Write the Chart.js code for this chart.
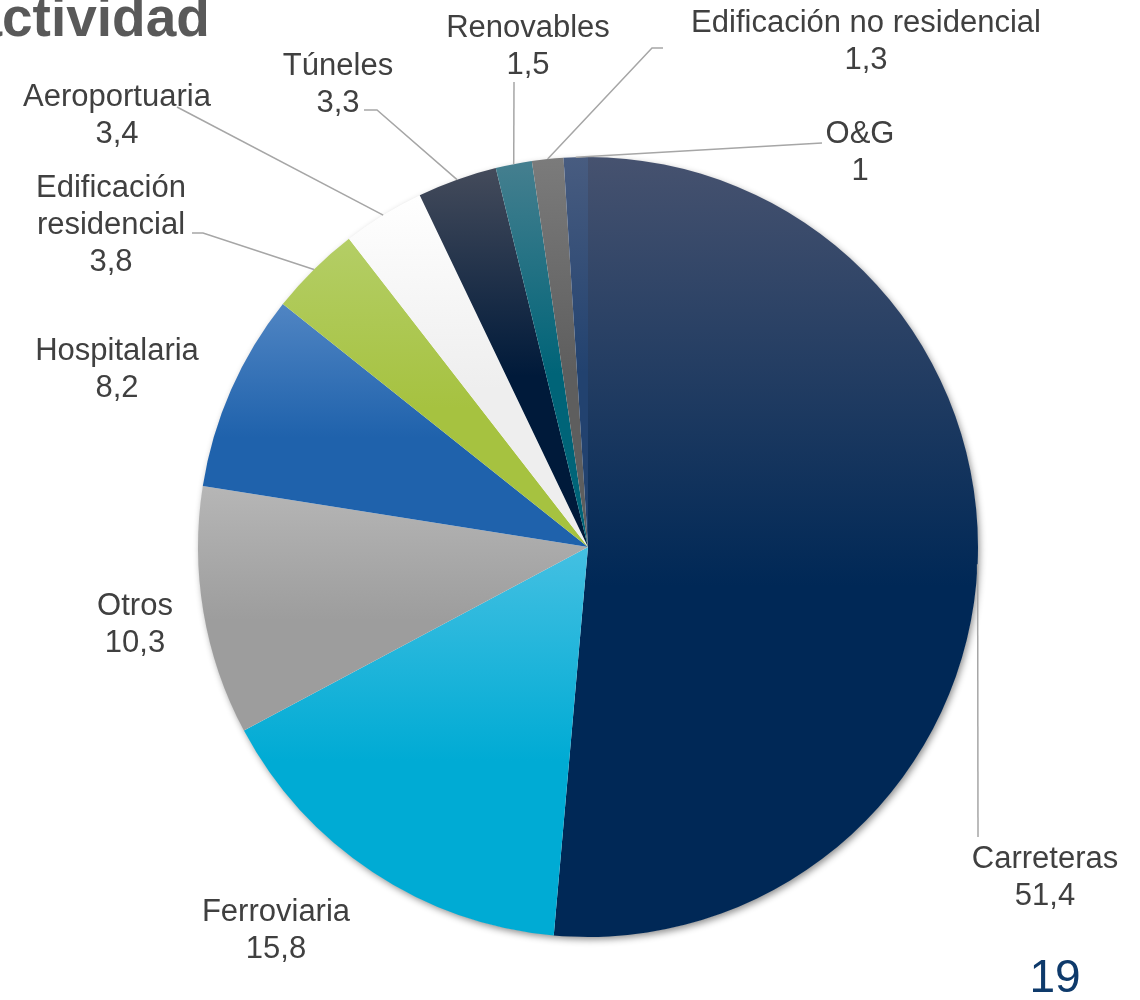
<!DOCTYPE html>
<html><head><meta charset="utf-8">
<script src="https://cdn.jsdelivr.net/npm/chart.js@4"></script>
<style>html,body{margin:0;padding:0;background:#fff}#wrap{width:1140px;height:1000px;position:relative}</style>
</head><body><div id="wrap"><canvas id="c" width="1140" height="1000"></canvas></div>
<script>
// ---- data ----
const categories = ['Carreteras','Ferroviaria','Otros','Hospitalaria','Edificación\nresidencial','Aeroportuaria','Túneles','Renovables','Edificación no residencial','O&G'];
const values = [51.4, 15.8, 10.3, 8.2, 3.8, 3.4, 3.3, 1.5, 1.3, 1];
// ---- styles ----
const topColors  = ['#46526f','#44c0e2','#b6b6b6','#5085c3','#b4ce66','#ffffff','#444b5b','#457f8f','#7b7b7b','#485c80'];
const baseColors = ['#002856','#00abd4','#9d9d9d','#1f62ac','#a6c240','#eeeeee','#001a3a','#006478','#5e5e5e','#22426f'];
// ---- label layout (centre x, first baseline) and leader elbows on label side ----
const labelX = [1045, 276, 135, 117, 111, 117, 338, 528, 866, 860];
const labelY = [868, 921, 615, 360, 197, 106, 75, 37, 32, 143];
const leaders = [
  [[978,837]], null, null, null,
  [[192,233],[203,233]],
  [[177,107]],
  [[364,110],[377,110]],
  [[514,82]],
  [[663,48],[652,48]],
  [[822,143]]
];
const LINE_H = 37;

function sliceGradient(ctx) {
  const chart = ctx.chart, a = chart.chartArea, i = ctx.dataIndex;
  if (!a) return baseColors[i];
  const cx = (a.left + a.right) / 2, cy = (a.top + a.bottom) / 2;
  const r = Math.min(a.right - a.left, a.bottom - a.top) / 2;
  const total = values.reduce((s, v) => s + v, 0);
  let s = 0; for (let k = 0; k < i; k++) s += values[k];
  const a0 = -Math.PI / 2 + s / total * 2 * Math.PI;
  const a1 = a0 + values[i] / total * 2 * Math.PI;
  const ys = [cy, cy + r * Math.sin(a0), cy + r * Math.sin(a1)];
  if (a0 <= -Math.PI / 2 + 1e-6 || a1 >= 1.5 * Math.PI - 1e-6) ys.push(cy - r);
  if (a0 <= Math.PI / 2 && a1 >= Math.PI / 2) ys.push(cy + r);
  const y0 = Math.min(...ys), y1 = Math.max(...ys);
  const g = chart.ctx.createLinearGradient(0, y0, 0, Math.max(y1, y0 + 1));
  g.addColorStop(0, topColors[i]);
  g.addColorStop(0.55, baseColors[i]);
  g.addColorStop(1, baseColors[i]);
  return g;
}

const fmt = v => String(v).replace('.', ',');

const shadowPlugin = {
  id: 'pieShadow',
  beforeDatasetsDraw(chart) {
    const arc = chart.getDatasetMeta(0).data[0];
    if (!arc) return;
    const p = arc.getProps(['x','y','outerRadius'], true);
    const c = chart.ctx;
    c.save();
    c.shadowColor = 'rgba(0,0,0,0.45)';
    c.shadowBlur = 7; c.shadowOffsetX = 2; c.shadowOffsetY = 3;
    c.fillStyle = '#ffffff';
    c.beginPath(); c.arc(p.x, p.y, p.outerRadius - 0.5, 0, Math.PI * 2); c.fill();
    c.restore();
  }
};

const labelPlugin = {
  id: 'pieLabels',
  afterDatasetsDraw(chart) {
    const c = chart.ctx;
    const arcs = chart.getDatasetMeta(0).data;
    c.save();
    // leader lines
    c.strokeStyle = '#a6a6a6'; c.lineWidth = 1.5;
    arcs.forEach((arc, i) => {
      const pts = leaders[i];
      if (!pts) return;
      const p = arc.getProps(['x','y','startAngle','endAngle','outerRadius'], true);
      const m = (p.startAngle + p.endAngle) / 2;
      const ax = p.x + Math.cos(m) * p.outerRadius, ay = p.y + Math.sin(m) * p.outerRadius;
      c.beginPath();
      c.moveTo(pts[0][0], pts[0][1]);
      for (let k = 1; k < pts.length; k++) c.lineTo(pts[k][0], pts[k][1]);
      c.lineTo(ax, ay);
      c.stroke();
    });
    // texts
    c.fillStyle = '#404040';
    c.font = '31px "Liberation Sans", Arial, sans-serif';
    c.textAlign = 'center'; c.textBaseline = 'alphabetic';
    categories.forEach((name, i) => {
      const lines = name.split('\n').concat([fmt(values[i])]);
      lines.forEach((t, k) => c.fillText(t, labelX[i], labelY[i] + k * LINE_H));
    });
    // title fragment and page number
    c.fillStyle = '#595959';
    c.font = 'bold 55px "Liberation Sans", Arial, sans-serif';
    c.textAlign = 'left';
    const aw = c.measureText('a').width;
    c.fillText('actividad', 2 - aw, 36);
    c.fillStyle = '#0e3a6b';
    c.font = '46px "Liberation Sans", Arial, sans-serif';
    c.textAlign = 'center';
    c.fillText('19', 1055, 992);
    c.restore();
  }
};

new Chart(document.getElementById('c'), {
  type: 'pie',
  data: {
    labels: categories,
    datasets: [{
      data: values,
      backgroundColor: sliceGradient,
      borderWidth: 0,
      hoverOffset: 0
    }]
  },
  options: {
    responsive: false,
    devicePixelRatio: 1,
    animation: false,
    layout: { padding: { left: 198, right: 162, top: 157, bottom: 63 } },
    plugins: { legend: { display: false }, tooltip: { enabled: false } },
    events: []
  },
  plugins: [shadowPlugin, labelPlugin]
});
</script>
</body></html>
